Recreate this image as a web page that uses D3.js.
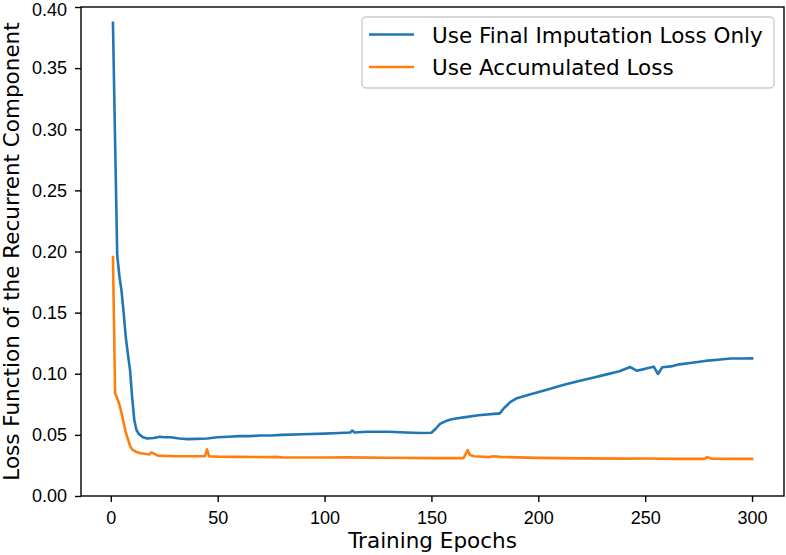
<!DOCTYPE html>
<html>
<head>
<meta charset="utf-8">
<title>Loss curves</title>
<script src="https://d3js.org/d3.v7.min.js"></script>
<style type="text/css">
body { margin: 0; background: #fff; }
svg { display: block; font-family: "DejaVu Sans", sans-serif; }
.tick text { font-size: 18px; fill: #000; }
</style>
</head>
<body>
<div id="my_dataviz"></div>
<script>
// epochs / values
var epochsFinal = [1, 2, 3, 4, 5, 6, 7, 8, 9, 10, 11, 12, 13, 15, 17, 20, 23, 25, 28, 32, 36, 40, 45, 50, 55, 60, 65, 70, 75, 80, 90, 100, 107, 112, 113, 114, 120, 130, 138, 145, 150, 152, 154, 157, 160, 166, 172, 182, 184, 187, 190, 196, 204, 212, 220, 226, 232, 238, 243, 246, 250, 254, 256, 258, 262, 266, 272, 278, 284, 290, 295, 300];
var lossFinal = [0.387, 0.290, 0.197, 0.180, 0.168, 0.150, 0.130, 0.116, 0.103, 0.080, 0.062, 0.054, 0.051, 0.048, 0.047, 0.0475, 0.0485, 0.048, 0.048, 0.047, 0.0465, 0.0467, 0.047, 0.048, 0.0485, 0.049, 0.049, 0.0495, 0.0495, 0.050, 0.0505, 0.051, 0.0515, 0.052, 0.0535, 0.052, 0.0525, 0.0525, 0.052, 0.0515, 0.0518, 0.055, 0.059, 0.0615, 0.063, 0.0645, 0.066, 0.0676, 0.072, 0.077, 0.080, 0.083, 0.087, 0.091, 0.0945, 0.097, 0.0995, 0.102, 0.1055, 0.1025, 0.104, 0.1058, 0.0998, 0.1053, 0.106, 0.1077, 0.109, 0.1105, 0.1115, 0.1125, 0.1125, 0.1126];

var epochsAcc = [1, 2, 3, 4, 5, 6, 7, 8, 9, 10, 12, 14, 16, 18, 19, 20, 22, 25, 30, 40, 44, 45, 46, 50, 60, 75, 77, 80, 100, 110, 130, 150, 165, 167, 168, 170, 177, 179, 182, 200, 220, 240, 250, 265, 278, 279, 281, 290, 300];
var lossAcc = [0.1955, 0.084, 0.080, 0.075, 0.068, 0.060, 0.052, 0.0465, 0.041, 0.038, 0.036, 0.035, 0.0345, 0.034, 0.0357, 0.0348, 0.033, 0.0328, 0.0325, 0.0325, 0.0325, 0.0382, 0.0325, 0.0322, 0.032, 0.0318, 0.032, 0.0316, 0.0315, 0.0316, 0.0313, 0.031, 0.031, 0.0376, 0.0335, 0.0325, 0.0318, 0.0325, 0.032, 0.0312, 0.0308, 0.0306, 0.0307, 0.0304, 0.0304, 0.0318, 0.0306, 0.0304, 0.0304];

var seriesNames = ["Use Final Imputation Loss Only", "Use Accumulated Loss"];
var seriesColors = ["#1f77b4", "#ff7f0e"];
var xTicks = [0, 50, 100, 150, 200, 250, 300];
var yTicks = [0, 0.05, 0.10, 0.15, 0.20, 0.25, 0.30, 0.35, 0.40];

var margin = {top: 7, right: 2, bottom: 59, left: 81},
    width = 786 - margin.left - margin.right,
    height = 555 - margin.top - margin.bottom;

var svg = d3.select("#my_dataviz")
  .append("svg")
    .attr("width", width + margin.left + margin.right)
    .attr("height", height + margin.top + margin.bottom)
  .append("g")
    .attr("transform", "translate(" + margin.left + "," + margin.top + ")");

var x = d3.scaleLinear()
  .domain([-13.95, 314.95])
  .range([0, width]);

var y = d3.scaleLinear()
  .domain([0, 0.40])
  .range([height, 0]);

// lines
var line = d3.line()
  .x(function (d) { return x(d[0]); })
  .y(function (d) { return y(d[1]); });

var series = [
  d3.zip(epochsFinal, lossFinal),
  d3.zip(epochsAcc, lossAcc)
];

svg.append("g")
  .selectAll("path")
  .data(series)
  .enter()
  .append("path")
    .attr("d", line)
    .attr("fill", "none")
    .attr("stroke", function (d, i) { return seriesColors[i]; })
    .attr("stroke-width", 2.6)
    .attr("stroke-linejoin", "round")
    .attr("stroke-linecap", "square");

// axes
var xAxis = svg.append("g")
  .attr("transform", "translate(0," + height + ")")
  .call(d3.axisBottom(x).tickValues(xTicks).tickSize(6).tickPadding(9).tickFormat(d3.format("d")));

var yAxis = svg.append("g")
  .call(d3.axisLeft(y).tickValues(yTicks).tickSize(6).tickPadding(8).tickFormat(d3.format(".2f")));

svg.selectAll(".domain").remove();
svg.selectAll(".tick line").attr("stroke", "#000").attr("stroke-width", 1.4);
// keep the top label inside the page
yAxis.selectAll(".tick text").filter(function (d) { return d == 0.40; }).attr("dy", "0.45em");

// frame
svg.append("rect")
  .attr("width", width)
  .attr("height", height)
  .attr("fill", "none")
  .attr("stroke", "#000")
  .attr("stroke-width", 1.4);

// labels
svg.append("text")
  .attr("text-anchor", "middle")
  .attr("x", width / 2)
  .attr("y", height + 52)
  .style("font-size", "21.5px")
  .text("Training Epochs");

svg.append("text")
  .attr("text-anchor", "middle")
  .attr("transform", "translate(" + (19 - margin.left) + "," + (height / 2) + ")rotate(-90)")
  .style("font-size", "21.5px")
  .text("Loss Function of the Recurrent Component");

// legend
var legend = svg.append("g")
  .attr("transform", "translate(" + (362 - margin.left) + "," + (17 - margin.top) + ")");

legend.append("rect")
  .attr("width", 412)
  .attr("height", 71)
  .attr("rx", 4)
  .attr("fill", "#fff")
  .attr("fill-opacity", 0.8)
  .attr("stroke", "#cccccc")
  .attr("stroke-width", 1.4);

seriesNames.forEach(function (name, i) {
  var ly = 17.5 + i * 32.5;
  legend.append("line")
    .attr("x1", 7).attr("x2", 52)
    .attr("y1", ly).attr("y2", ly)
    .attr("stroke", seriesColors[i])
    .attr("stroke-width", 2.6);
  legend.append("text")
    .attr("x", 70)
    .attr("y", ly + 8)
    .style("font-size", "21.5px")
    .text(name);
});
</script>
</body>
</html>
